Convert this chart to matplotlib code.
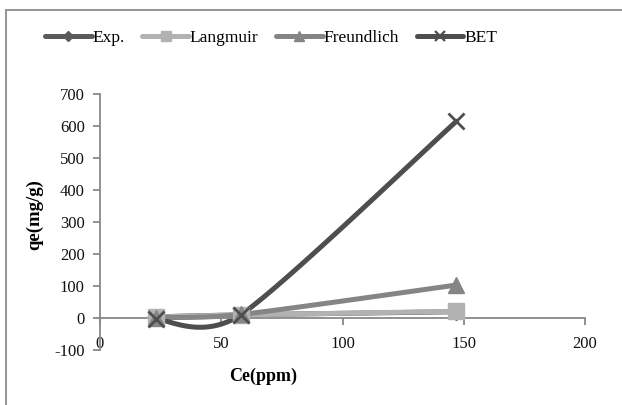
import numpy as np
import matplotlib
matplotlib.use("Agg")
import matplotlib.pyplot as plt
from matplotlib.lines import Line2D
from matplotlib.patches import Rectangle

# Equilibrium concentration (ppm) and adsorption capacity (mg/g)
ce = [23, 58, 147]
qe_exp = [3.5, 9.8, 19.6]
qe_langmuir = [3.2, 9.5, 21.0]
qe_freundlich = [1.5, 11.0, 103.0]
qe_bet = [-3.0, 10.0, 615.0]

series_names = ["Exp.", "Langmuir", "Freundlich", "BET"]
x_ticks = [0, 50, 100, 150, 200]
y_ticks = [-100, 0, 100, 200, 300, 400, 500, 600, 700]

plt.rcParams["font.family"] = ["Liberation Serif", "DejaVu Serif"]
plt.rcParams["axes.unicode_minus"] = False


def smooth(xs, ys, k=0.13, n=60):
    """Spreadsheet-style smoothed line: cubic Bezier segments whose control
    points follow the neighbouring points (Catmull-Rom style)."""
    p = np.column_stack([xs, ys]).astype(float)
    out = []
    for i in range(len(p) - 1):
        p0 = p[i - 1] if i > 0 else p[i]
        p1, p2 = p[i], p[i + 1]
        p3 = p[i + 2] if i + 2 < len(p) else p[i + 1]
        c1 = p1 + (p2 - p0) * k
        c2 = p2 - (p3 - p1) * k
        t = np.linspace(0, 1, n)[:, None]
        seg = ((1 - t) ** 3 * p1 + 3 * (1 - t) ** 2 * t * c1
               + 3 * (1 - t) * t ** 2 * c2 + t ** 3 * p2)
        out.append(seg if i == 0 else seg[1:])
    s = np.vstack(out)
    return s[:, 0], s[:, 1]


fig = plt.figure(figsize=(6.22, 4.05), dpi=100)
ax = fig.add_axes([100 / 622, 1 - 350 / 405, 485 / 622, 256 / 405])

styles = [
    (qe_exp, "#5a5a5a", "D", 8),
    (qe_langmuir, "#b2b2b2", "s", 11),
    (qe_freundlich, "#858585", "^", 12),
    (qe_bet, "#4e4e4e", "x", 12),
]

handles = []
for (vals, col, mk, ms), name in zip(styles, series_names):
    sx, sy = smooth(ce, vals)
    ax.plot(sx, sy, color=col, lw=3.6, solid_capstyle="round", zorder=2)
    ax.plot(ce, vals, ls="none", marker=mk, ms=ms, color=col,
            mec=col, mew=2.0 if mk == "x" else 1, zorder=3)
    handles.append(Line2D([0], [0], color=col, lw=3.6, marker=mk,
                          ms=ms * 0.6, mew=1.6 if mk == "x" else 1,
                          solid_capstyle="round", label=name))

ax.set_xlim(0, 200)
ax.set_ylim(-100, 700)
ax.set_xticks(x_ticks)
ax.set_yticks(y_ticks)

axis_col = "#888888"
for side in ("top", "right"):
    ax.spines[side].set_visible(False)
ax.spines["bottom"].set_position(("data", 0))
for side in ("left", "bottom"):
    ax.spines[side].set_color(axis_col)
    ax.spines[side].set_linewidth(1.3)
ax.tick_params(axis="both", color=axis_col, width=1.3, length=5,
               labelsize=12, labelcolor="#111111")
ax.tick_params(axis="x", pad=8)
ax.tick_params(axis="y", pad=6)

fig.text(35 / 622, 1 - 215 / 405, "qe(mg/g)", rotation=90, ha="center",
         va="center", fontsize=13.5, fontweight="bold")
fig.text(263 / 622, 1 - 376 / 405, "Ce(ppm)", ha="center", va="center",
         fontsize=13, fontweight="bold")

fig.legend(handles=handles, loc="center", bbox_to_anchor=(271 / 622, 1 - 38 / 405),
           ncol=4, frameon=False, fontsize=12.5, handlelength=2.7,
           handletextpad=0.05, columnspacing=1.0)

# chart area border
fig.patches.append(Rectangle((6 / 622, -0.1), 1.2, 1 - 10 / 405 + 0.1,
                             transform=fig.transFigure, fill=False,
                             edgecolor="#8c8c8c", lw=1.3))

fig.savefig("out.png", dpi=100)
